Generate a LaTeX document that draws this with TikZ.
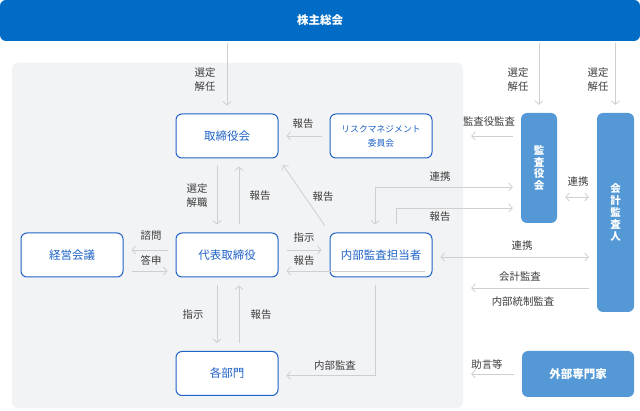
\documentclass[tikz,border=0pt]{standalone}
\usepackage{fontspec}
\setmainfont{Noto Sans CJK JP}
\usetikzlibrary{arrows.meta}

\definecolor{gmblue}{HTML}{006CC6}
\definecolor{boxblue}{HTML}{1F63C6}
\definecolor{auditblue}{HTML}{5499D6}
\definecolor{panelgray}{HTML}{F2F3F5}
\definecolor{linegray}{HTML}{CFCFCF}
\definecolor{textgray}{HTML}{3C3C3C}

\begin{document}
\begin{tikzpicture}[x=1pt,y=-1pt,font=\fontsize{10.4}{14}\selectfont]
    \tikzstyle{arr}=[draw=linegray,line width=0.8pt,-{Straight Barb[length=3.5pt,width=8pt]},shorten >=8pt,shorten <=8pt]
    \tikzstyle{twoway}=[arr,{Straight Barb[length=3.5pt,width=8pt]}-{Straight Barb[length=3.5pt,width=8pt]}]
    \tikzstyle{unit}=[draw=boxblue,line width=1pt,fill=white,rounded corners=6pt,minimum width=102pt,minimum height=44pt,text=boxblue,font=\fontsize{11.5}{14}\selectfont]
    \tikzstyle{audit}=[fill=auditblue,rounded corners=6pt,text=white,align=center,inner sep=0pt,font=\fontsize{10.5}{11.8}\selectfont\bfseries]
    \tikzstyle{annot}=[text=textgray,align=center,inner sep=1pt]

    \useasboundingbox (0,0) rectangle (640,411);

    % Shareholders banner and the gray company panel
    \node[fill=gmblue,rounded corners=6pt,minimum width=640pt,minimum height=41pt,text=white,font=\fontsize{11.5}{14}\selectfont\bfseries] (gm) at (320,20.5) {株主総会};
    \node[fill=panelgray,rounded corners=6pt,minimum width=451pt,minimum height=345pt,inner sep=0pt] (panel) at (237.5,235.5) {};

    % Draw the units inside the company
    \node[unit] (bod) at (227,136) {取締役会};
    \node[unit,font=\fontsize{8.8}{14}\selectfont,align=center] (risk) at (381,136) {リスクマネジメント\\委員会};
    \node[unit] (mgmt) at (72,255) {経営会議};
    \node[unit] (ceo) at (227,255) {代表取締役};
    \node[unit] (ia) at (381,255) {内部監査担当者};
    \node[unit] (div) at (227,373.5) {各部門};

    % Auditors and outside experts
    \node[audit,minimum width=36pt,minimum height=110pt] (kansa) at (539,168) {監\\査\\役\\会};
    \node[audit,minimum width=37pt,minimum height=199pt] (auditor) at (615.5,212.5) {\mbox{}\\[-3pt]会\\計\\監\\査\\人};
    \node[audit,minimum width=112pt,minimum height=46pt,font=\fontsize{11.5}{14}\selectfont\bfseries] (ext) at (578,374) {外部専門家};

    % Shareholders appoint the boards
    \foreach \dest in {bod,kansa,auditor}
        \draw[arr,shorten <=2pt] (gm.south -| \dest.north) -- (\dest.north);
    \node[annot] (sel-bod) at (205,80) {選定\\解任};
    \node[annot] (sel-kansa) at (518,80) {選定\\解任};
    \node[annot] (sel-auditor) at (598,80) {選定\\解任};

    % Board and risk committee
    \draw[arr] (risk.west) -- (bod.east);
    \node[annot] (rep-risk) at (303,124) {報告};
    \draw[arr] (kansa.west |- risk.east) -- (panel.east |- risk.east);
    \node[annot] (kansa-audit) at (489,122) {監査役監査};

    % Board and representative director
    \draw[arr] ([xshift=-10pt]bod.south) -- ([xshift=-10pt]ceo.north);
    \node[annot] (sel-ceo) at (197,196) {選定\\解職};
    \draw[arr] ([xshift=12pt]ceo.north) -- ([xshift=12pt]bod.south);
    \node[annot] (rep-ceo) at (260,196) {報告};
    \draw[arr] (ia.north west) -- (bod.south east);
    \node[annot] (rep-ia) at (323,197) {報告};

    % Internal audit and the audit board
    \draw[twoway] ([xshift=-6pt]ia.north) |- ([yshift=-19pt]kansa.west);
    \node[annot] (coop-kansa) at (440,177) {連携};
    \draw[arr] ([xshift=15pt]ia.north) |- ([yshift=-40pt]kansa.west);
    \node[annot] (rep-kansa) at (440,217) {報告};

    % Management meeting
    \draw[arr] ([yshift=5pt]ceo.west) -- ([yshift=5pt]mgmt.east);
    \node[annot] (consult) at (151,236) {諮問};
    \draw[arr] ([yshift=-16pt]mgmt.east) -- ([yshift=-16pt]ceo.west);
    \node[annot] (answer) at (151,260) {答申};

    % Representative director and internal audit
    \draw[arr] ([yshift=5pt]ceo.east) -- ([yshift=5pt]ia.west);
    \node[annot] (instr-ia) at (304,238) {指示};
    \draw[arr] ([yshift=-16pt]ia.east) -- ([yshift=-16pt]ceo.east);
    \node[annot] (rep-ia2) at (304,261) {報告};

    % Representative director and the divisions
    \draw[arr] ([xshift=-10pt]ceo.south) -- ([xshift=-10pt]div.north);
    \node[annot] (instr-div) at (193,315) {指示};
    \draw[arr] ([xshift=12pt]div.north) -- ([xshift=12pt]ceo.south);
    \node[annot] (rep-div) at (261,315) {報告};
    \draw[arr] ([xshift=-6pt]ia.south) |- ([yshift=-2pt]div.east);
    \node[annot] (ia-audit) at (335,366) {内部監査};

    % Accounting auditor
    \coordinate (iar) at ([yshift=-2pt]ia.east);
    \draw[twoway] (iar) -- (iar -| auditor.west);
    \node[annot] (coop-ia) at (522,246) {連携};
    \coordinate (acc) at ([yshift=-33pt]ia.east);
    \draw[arr] (acc -| auditor.west) -- (acc -| panel.east);
    \node[annot] (acc-audit) at (520,277) {会計監査};
    \node[annot] (ic-audit) at (523,302) {内部統制監査};
    \coordinate (kar) at ([yshift=-29pt]kansa.east);
    \draw[twoway] (kar) -- (kar -| auditor.west);
    \node[annot] (coop-acc) at (578,182) {連携};

    % Outside experts
    \draw[arr] (ext.west) -- (ext.west -| panel.east);
    \node[annot] (advice) at (487,365) {助言等};
\end{tikzpicture}
\end{document}
